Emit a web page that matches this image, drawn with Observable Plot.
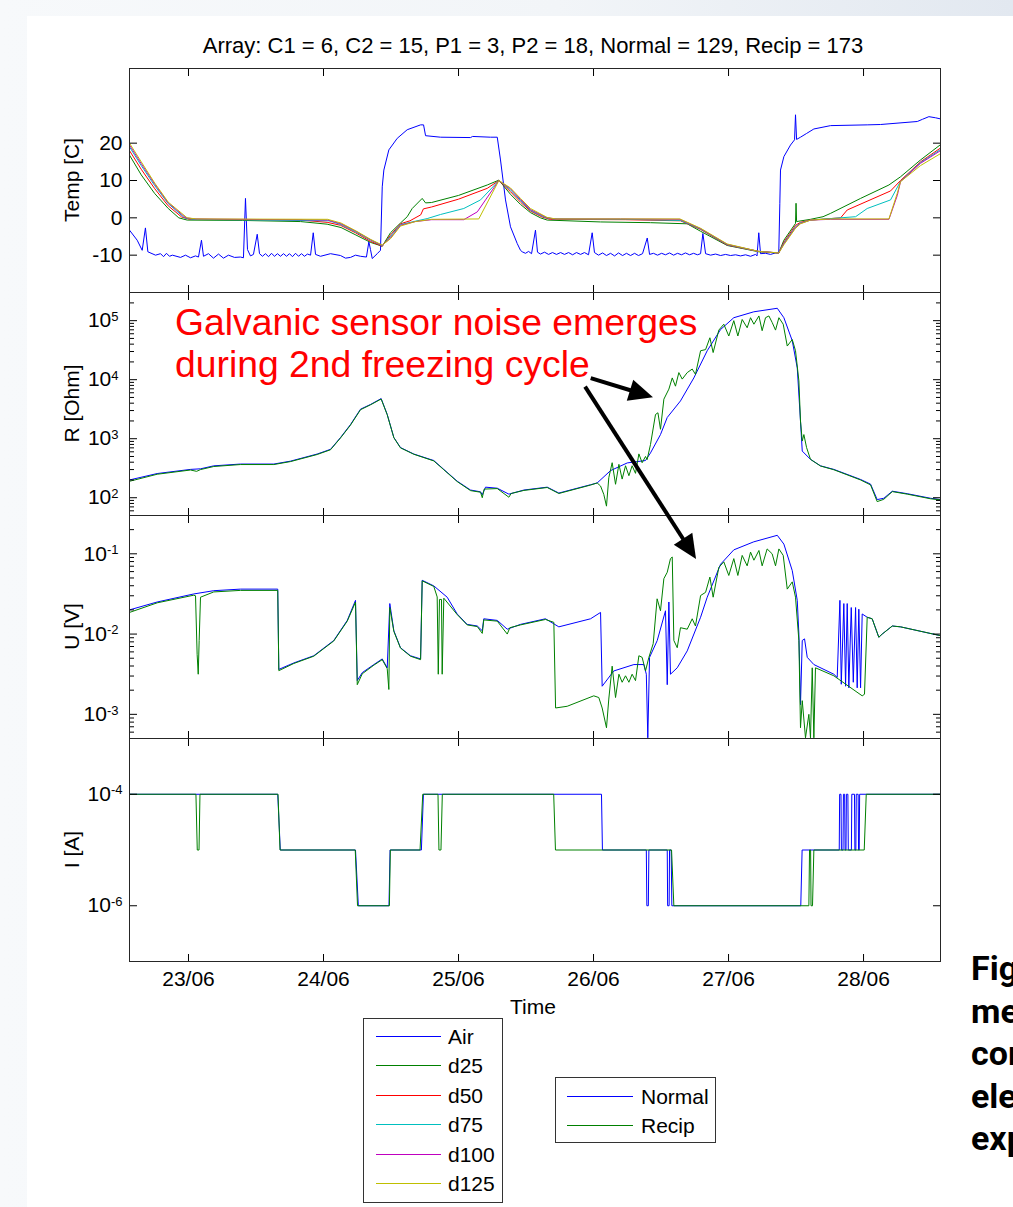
<!DOCTYPE html>
<html><head><meta charset="utf-8">
<script src="https://cdn.jsdelivr.net/npm/d3@7"></script>
<script src="https://cdn.jsdelivr.net/npm/@observablehq/plot@0.6"></script>
<style>
body{margin:0;}
#page{position:relative;width:1013px;height:1207px;overflow:hidden;font-family:"Liberation Sans",Arial,sans-serif;background:linear-gradient(90deg,#f7f9fb 0%,#f2f5f8 55%,#e2e8f0 100%);}
#sheet{position:absolute;left:27px;top:16px;right:0;bottom:0;background:#fff;}
.pl{position:absolute;left:0;}
</style>
</head><body>
<div id="page"><div id="sheet"></div></div>
<script>
// ---------- categories, ticks, labels ----------
const titleText = "Array: C1 = 6, C2 = 15, P1 = 3, P2 = 18, Normal = 129, Recip = 173";
const dayTicks = [23, 24, 25, 26, 27, 28];
const dayLabels = ["23/06", "24/06", "25/06", "26/06", "27/06", "28/06"];
const xDomain = [22.563, 28.570];
const tempSeries = ["Air", "d25", "d50", "d75", "d100", "d125"];
const ertSeries = ["Normal", "Recip"];
const yLabels = ["Temp [C]", "R [Ohm]", "U [V]", "I [A]"];
const xLabel = "Time";
const tempTicks = [-10, 0, 10, 20];
const rTicks = [1e2, 1e3, 1e4, 1e5];
const uTicks = [1e-3, 1e-2, 1e-1];
const iTicks = [1e-6, 1e-4];
const noteLines = ["Galvanic sensor noise emerges", "during 2nd freezing cycle"];
const sideText = ["Fig", "me", "cor", "ele", "exp"];

// ---------- series values: [day of June, value] ----------
const airTemp = [[22.563,-3.3],[22.620,-6.0],[22.657,-8.7],[22.681,-2.7],[22.699,-9.1],[22.756,-10.0],[22.793,-9.6],[22.815,-10.4],[22.837,-9.5],[22.859,-10.3],[22.881,-10.0],[22.941,-10.6],[22.978,-10.0],[23.015,-10.7],[23.052,-10.2],[23.074,-10.5],[23.096,-6.0],[23.111,-10.3],[23.148,-9.6],[23.185,-10.8],[23.222,-9.7],[23.259,-10.8],[23.296,-10.0],[23.341,-10.6],[23.385,-10.5],[23.407,-10.7],[23.422,5.2],[23.437,-8.5],[23.459,-10.2],[23.481,-9.8],[23.509,-4.4],[23.526,-9.6],[23.548,-10.3],[23.570,-9.6],[23.593,-10.4],[23.615,-9.5],[23.637,-10.3],[23.659,-9.6],[23.681,-10.3],[23.704,-9.6],[23.726,-10.3],[23.748,-9.6],[23.770,-10.4],[23.793,-9.5],[23.815,-10.3],[23.837,-9.6],[23.859,-10.3],[23.881,-9.7],[23.904,-10.0],[23.924,-4.0],[23.941,-9.8],[23.978,-10.3],[24.052,-9.6],[24.126,-10.1],[24.163,-10.8],[24.200,-10.6],[24.237,-10.0],[24.274,-10.3],[24.318,-10.5],[24.336,-6.4],[24.348,-8.5],[24.361,-10.9],[24.398,-9.6],[24.422,-8.7],[24.435,8.3],[24.447,12.8],[24.484,18.2],[24.546,21.3],[24.620,23.6],[24.719,24.9],[24.741,24.9],[24.756,22.0],[24.867,21.6],[25.089,21.5],[25.104,21.8],[25.237,21.6],[25.287,21.6],[25.311,15.5],[25.348,4.8],[25.385,-2.4],[25.435,-6.9],[25.459,-8.7],[25.472,-9.1],[25.496,-9.5],[25.519,-9.0],[25.541,-9.6],[25.570,-3.3],[25.585,-9.2],[25.607,-9.7],[25.637,-9.2],[25.667,-9.8],[25.696,-9.3],[25.726,-9.8],[25.756,-9.3],[25.785,-9.8],[25.815,-9.3],[25.845,-9.9],[25.874,-9.3],[25.904,-9.8],[25.933,-9.3],[25.963,-9.9],[25.990,-4.0],[26.007,-9.3],[26.037,-10.0],[26.067,-9.4],[26.096,-10.1],[26.126,-9.5],[26.156,-10.2],[26.185,-9.4],[26.215,-10.1],[26.244,-9.5],[26.274,-10.1],[26.304,-9.5],[26.333,-10.1],[26.363,-9.6],[26.398,-5.4],[26.415,-9.8],[26.444,-9.5],[26.474,-10.0],[26.504,-9.5],[26.533,-9.9],[26.563,-9.4],[26.593,-10.0],[26.622,-9.5],[26.652,-9.9],[26.681,-9.4],[26.711,-9.9],[26.741,-9.5],[26.770,-9.9],[26.793,-9.6],[26.810,-4.2],[26.830,-9.6],[26.867,-10.0],[26.904,-9.7],[26.941,-10.1],[26.978,-9.8],[27.015,-10.1],[27.052,-9.9],[27.089,-10.2],[27.126,-9.9],[27.163,-10.3],[27.200,-9.8],[27.211,-10.2],[27.224,-4.0],[27.237,-9.6],[27.274,-9.5],[27.311,-9.8],[27.348,-9.4],[27.372,-9.4],[27.380,3.9],[27.385,12.8],[27.410,16.4],[27.459,19.5],[27.489,20.9],[27.496,27.6],[27.504,21.0],[27.533,21.6],[27.578,22.6],[27.632,23.8],[27.756,24.7],[28.027,24.9],[28.126,25.0],[28.398,25.8],[28.437,26.4],[28.484,27.1],[28.533,26.8],[28.570,26.5]];
const d25Temp = [[22.563,16.8],[22.650,11.5],[22.750,6.5],[22.850,2.5],[22.928,0.0],[22.990,-0.6],[23.400,-0.7],[23.830,-1.0],[24.027,-1.7],[24.130,-2.6],[24.240,-4.6],[24.350,-6.6],[24.435,-7.6],[24.496,-4.0],[24.570,-1.4],[24.620,0.3],[24.657,2.5],[24.731,5.2],[24.756,4.0],[24.800,4.1],[25.000,6.0],[25.213,8.8],[25.299,10.1],[25.385,6.3],[25.459,3.6],[25.533,1.4],[25.607,0.0],[25.657,-0.6],[26.052,-1.1],[26.422,-1.3],[26.694,-1.6],[26.793,-3.6],[26.990,-7.4],[27.224,-9.1],[27.372,-9.4],[27.410,-6.0],[27.496,-1.5],[27.500,3.9],[27.504,-1.0],[27.607,-0.4],[27.700,0.3],[27.756,1.2],[27.978,5.2],[28.188,8.8],[28.274,11.0],[28.422,15.5],[28.570,19.6]];
const d50Temp = [[22.563,18.0],[22.650,13.0],[22.750,7.8],[22.850,3.2],[22.950,0.2],[23.010,-0.4],[23.830,-0.6],[24.027,-1.2],[24.126,-2.0],[24.237,-4.0],[24.348,-6.3],[24.435,-7.6],[24.496,-4.6],[24.570,-1.6],[24.640,-0.8],[24.720,0.8],[24.740,2.4],[24.800,2.9],[25.000,5.0],[25.213,7.9],[25.299,10.0],[25.385,7.0],[25.459,4.2],[25.533,1.8],[25.620,0.2],[25.680,-0.4],[26.237,-0.5],[26.644,-0.8],[26.793,-3.1],[26.990,-7.3],[27.224,-9.0],[27.372,-9.4],[27.410,-6.5],[27.496,-2.0],[27.533,-1.2],[27.607,-0.6],[27.830,0.0],[27.879,2.1],[28.200,7.2],[28.274,10.0],[28.422,15.0],[28.570,18.7]];
const d75Temp = [[22.563,19.0],[22.650,14.0],[22.750,8.6],[22.850,3.8],[22.970,0.0],[23.030,-0.4],[24.040,-0.8],[24.130,-1.8],[24.240,-3.8],[24.350,-6.0],[24.435,-7.5],[24.496,-5.0],[24.570,-1.8],[24.680,-0.9],[24.768,-0.2],[24.867,0.9],[25.039,2.5],[25.163,4.8],[25.299,10.0],[25.385,7.5],[25.459,4.6],[25.533,2.0],[25.640,0.1],[25.700,-0.3],[26.237,-0.4],[26.644,-0.7],[26.793,-3.0],[26.990,-7.2],[27.224,-9.0],[27.372,-9.4],[27.410,-6.8],[27.496,-2.4],[27.533,-1.4],[27.607,-0.6],[27.941,0.3],[28.027,2.5],[28.200,4.8],[28.274,9.8],[28.422,14.8],[28.570,18.3]];
const d100Temp = [[22.563,19.5],[22.650,14.5],[22.750,9.0],[22.850,4.0],[22.980,0.0],[23.050,-0.3],[24.030,-0.6],[24.130,-1.6],[24.240,-3.6],[24.350,-5.9],[24.435,-7.4],[24.496,-5.4],[24.570,-2.0],[24.680,-1.0],[24.800,-0.5],[25.039,-0.5],[25.139,1.6],[25.200,4.8],[25.299,10.0],[25.385,7.8],[25.459,4.9],[25.533,2.2],[25.650,0.1],[25.710,-0.3],[26.200,-0.3],[26.640,-0.4],[26.793,-2.9],[26.990,-7.1],[27.224,-9.0],[27.372,-9.4],[27.410,-7.0],[27.496,-2.6],[27.533,-1.5],[27.607,-0.6],[27.756,-0.4],[28.188,-0.4],[28.250,6.0],[28.274,9.7],[28.422,14.6],[28.570,18.0]];
const d125Temp = [[22.563,20.0],[22.650,15.0],[22.750,9.3],[22.850,4.2],[22.990,0.0],[23.060,-0.3],[24.030,-0.4],[24.130,-1.4],[24.240,-3.5],[24.350,-5.8],[24.435,-7.3],[24.496,-5.6],[24.570,-2.2],[24.680,-1.0],[24.800,-0.4],[25.150,-0.3],[25.299,10.0],[25.385,8.0],[25.459,5.2],[25.533,2.5],[25.657,0.1],[25.720,-0.3],[26.200,-0.3],[26.640,-0.3],[26.793,-2.8],[26.990,-7.0],[27.224,-9.0],[27.372,-9.4],[27.410,-7.2],[27.496,-2.8],[27.533,-1.6],[27.607,-0.6],[27.756,-0.3],[28.188,-0.3],[28.250,6.6],[28.274,9.7],[28.422,14.0],[28.570,17.2]];

const rNormal = [[22.563,200],[22.768,257],[23.015,302],[23.089,309],[23.187,347],[23.385,372],[23.632,372],[23.756,417],[23.953,550],[24.052,661],[24.126,1047],[24.200,1738],[24.274,3162],[24.348,3800],[24.427,4786],[24.472,2570],[24.521,1047],[24.570,708],[24.669,550],[24.817,427],[24.891,302],[24.990,191],[25.089,135],[25.163,126],[25.176,112],[25.200,151],[25.287,145],[25.373,115],[25.484,135],[25.657,151],[25.743,120],[25.978,166],[26.027,178],[26.126,288],[26.250,389],[26.385,427],[26.422,575],[26.496,1175],[26.546,2291],[26.644,4365],[26.743,10715],[26.842,30903],[26.941,70795],[27.039,112202],[27.187,141254],[27.361,162181],[27.410,112202],[27.472,45709],[27.509,15849],[27.533,1995],[27.546,617],[27.607,447],[27.681,347],[27.780,302],[27.978,204],[28.052,170],[28.101,93],[28.150,98],[28.213,129],[28.324,117],[28.496,98],[28.570,93]];
const rRecip = [[22.563,190],[22.768,250],[23.015,295],[23.060,280],[23.089,300],[23.187,338],[23.385,365],[23.632,365],[23.756,410],[23.953,540],[24.052,650],[24.126,1030],[24.200,1700],[24.274,3100],[24.348,3750],[24.427,4700],[24.472,2550],[24.521,1040],[24.570,700],[24.669,545],[24.817,420],[24.891,298],[24.990,188],[25.089,132],[25.163,124],[25.176,100],[25.190,140],[25.287,143],[25.373,102],[25.390,118],[25.484,133],[25.657,149],[25.743,118],[25.978,164],[26.027,178],[26.052,158],[26.076,114],[26.096,72],[26.113,218],[26.138,392],[26.163,169],[26.188,368],[26.212,207],[26.237,348],[26.262,236],[26.286,348],[26.311,259],[26.336,553],[26.360,392],[26.385,500],[26.397,443],[26.422,800],[26.459,2570],[26.477,2750],[26.496,1445],[26.521,4677],[26.558,6918],[26.583,10715],[26.607,7762],[26.632,13183],[26.657,10233],[26.694,13183],[26.731,15136],[26.755,12303],[26.793,30903],[26.830,32359],[26.862,51286],[26.886,28840],[26.928,69183],[26.965,87096],[27.002,54954],[27.039,100000],[27.069,54954],[27.101,104713],[27.138,75858],[27.163,112202],[27.188,87096],[27.225,120226],[27.249,67608],[27.274,112202],[27.299,120226],[27.323,93325],[27.348,69183],[27.373,112202],[27.405,87096],[27.435,37154],[27.472,47863],[27.496,30903],[27.521,9550],[27.533,1995],[27.546,912],[27.558,1175],[27.578,708],[27.607,447],[27.681,345],[27.780,298],[27.978,200],[28.052,165],[28.101,86],[28.150,94],[28.213,127],[28.324,115],[28.496,96],[28.570,92]];

const uNormal = [[22.563,0.0200],[22.768,0.0251],[23.039,0.0316],[23.187,0.0347],[23.385,0.0363],[23.661,0.0363],[23.669,0.00363],[23.780,0.00437],[23.928,0.00537],[24.076,0.00832],[24.176,0.0148],[24.237,0.0263],[24.250,0.00263],[24.287,0.00331],[24.373,0.00417],[24.435,0.00490],[24.472,0.00380],[24.491,0.0240],[24.521,0.0110],[24.570,0.00676],[24.644,0.00537],[24.719,0.00490],[24.731,0.0468],[24.817,0.0398],[24.916,0.0288],[24.990,0.0178],[25.064,0.0132],[25.139,0.0126],[25.176,0.0110],[25.187,0.0155],[25.287,0.0148],[25.361,0.0115],[25.459,0.0132],[25.644,0.0155],[25.743,0.0123],[25.978,0.0155],[26.052,0.0186],[26.064,0.00224],[26.150,0.00347],[26.299,0.00417],[26.373,0.00417],[26.391,0.00316],[26.402,0.00051],[26.415,0.00513],[26.472,0.00832],[26.533,0.0195],[26.546,0.00234],[26.558,0.0251],[26.570,0.00316],[26.620,0.00380],[26.694,0.00617],[26.793,0.0162],[26.842,0.0288],[26.941,0.0741],[27.039,0.112],[27.187,0.141],[27.361,0.170],[27.410,0.132],[27.472,0.0617],[27.509,0.0263],[27.521,0.0100],[27.533,0.00132],[27.546,0.00832],[27.563,0.00871],[27.583,0.00513],[27.632,0.00417],[27.780,0.00316],[27.805,0.00288],[27.825,0.0263],[27.835,0.00237],[27.854,0.0240],[27.867,0.00224],[27.879,0.0240],[27.891,0.00214],[27.909,0.0214],[27.924,0.00251],[27.941,0.0214],[27.953,0.00214],[27.965,0.0204],[27.978,0.00214],[27.990,0.0178],[28.027,0.0162],[28.064,0.0155],[28.113,0.00912],[28.138,0.0100],[28.213,0.0126],[28.274,0.0123],[28.570,0.00955]];
const uRecip = [[22.563,0.0186],[22.768,0.0245],[23.039,0.0305],[23.052,0.0300],[23.064,0.0056],[23.072,0.00316],[23.079,0.0083],[23.089,0.0288],[23.187,0.0335],[23.385,0.0350],[23.661,0.0350],[23.669,0.00350],[23.780,0.00430],[23.928,0.00530],[24.076,0.00820],[24.176,0.0145],[24.237,0.0250],[24.250,0.00234],[24.287,0.00320],[24.373,0.00410],[24.435,0.00480],[24.472,0.00370],[24.484,0.00204],[24.491,0.0214],[24.521,0.0108],[24.570,0.00670],[24.644,0.00530],[24.719,0.00480],[24.731,0.0460],[24.817,0.0392],[24.842,0.0290],[24.850,0.00316],[24.859,0.0270],[24.874,0.0270],[24.879,0.00316],[24.891,0.0280],[24.990,0.0175],[25.064,0.0130],[25.139,0.0124],[25.176,0.0102],[25.187,0.0150],[25.287,0.0145],[25.361,0.0100],[25.380,0.0120],[25.459,0.0130],[25.644,0.0152],[25.706,0.0140],[25.719,0.00120],[25.805,0.00126],[26.002,0.00170],[26.039,0.00162],[26.064,0.00120],[26.096,0.00068],[26.113,0.00155],[26.138,0.00398],[26.163,0.00162],[26.188,0.00316],[26.212,0.00251],[26.237,0.00302],[26.262,0.00251],[26.286,0.00316],[26.311,0.00263],[26.336,0.00537],[26.360,0.00513],[26.385,0.00347],[26.410,0.00513],[26.442,0.00759],[26.471,0.0275],[26.496,0.0195],[26.521,0.0490],[26.546,0.0589],[26.570,0.0871],[26.583,0.0912],[26.595,0.00832],[26.620,0.00676],[26.644,0.0120],[26.694,0.0115],[26.731,0.0155],[26.755,0.0126],[26.793,0.0302],[26.830,0.0331],[26.862,0.0513],[26.886,0.0288],[26.928,0.0676],[26.965,0.0794],[27.002,0.0537],[27.039,0.0871],[27.069,0.0537],[27.101,0.0955],[27.138,0.0708],[27.163,0.105],[27.188,0.0832],[27.225,0.110],[27.249,0.0708],[27.286,0.115],[27.323,0.100],[27.348,0.0708],[27.373,0.115],[27.405,0.0955],[27.435,0.0363],[27.472,0.0447],[27.496,0.0288],[27.521,0.00832],[27.533,0.00068],[27.546,0.00148],[27.570,0.00051],[27.595,0.00100],[27.607,0.00051],[27.620,0.00380],[27.632,0.00051],[27.644,0.00380],[27.780,0.00302],[27.990,0.00170],[28.007,0.00178],[28.027,0.0162],[28.064,0.0155],[28.113,0.00912],[28.138,0.0100],[28.213,0.0126],[28.274,0.0123],[28.570,0.00955]];

const iNormal = [[22.563,1e-4],[23.661,1e-4],[23.680,1e-5],[24.237,1e-5],[24.258,1e-6],[24.485,1e-6],[24.493,1e-5],[24.725,1e-5],[24.740,1e-4],[26.059,1e-4],[26.066,1e-5],[26.391,1e-5],[26.395,1e-6],[26.406,1e-6],[26.410,1e-5],[26.546,1e-5],[26.549,1e-6],[26.560,1e-6],[26.563,1e-5],[26.575,1e-5],[26.580,1e-6],[27.535,1e-6],[27.545,1e-5],[27.820,1e-5],[27.823,1e-4],[27.833,1e-4],[27.836,1e-5],[27.848,1e-5],[27.851,1e-4],[27.860,1e-4],[27.863,1e-5],[27.870,1e-5],[27.873,1e-4],[27.884,1e-4],[27.887,1e-5],[27.910,1e-5],[27.913,1e-4],[27.933,1e-4],[27.936,1e-5],[27.943,1e-5],[27.946,1e-4],[27.960,1e-4],[27.963,1e-5],[27.968,1e-5],[27.971,1e-4],[28.570,1e-4]];
const iRecip = [[22.563,1e-4],[23.055,1e-4],[23.065,1e-5],[23.078,1e-5],[23.085,1e-4],[23.663,1e-4],[23.678,1e-5],[24.235,1e-5],[24.252,1e-6],[24.488,1e-6],[24.495,1e-5],[24.715,1e-5],[24.735,1e-4],[24.848,1e-4],[24.855,1e-5],[24.870,1e-5],[24.880,1e-4],[25.705,1e-4],[25.718,1e-5],[26.578,1e-5],[26.595,1e-6],[27.595,1e-6],[27.600,1e-5],[27.608,1e-5],[27.611,1e-6],[27.622,1e-6],[27.632,1e-5],[28.005,1e-5],[28.020,1e-4],[28.570,1e-4]];

// annotation anchors in data units (day, value)
const noteAnchor = {t: 22.904, r: 55000};
const arrowA = {from: {t: 25.983, r: 10400}, to: {t: 26.444, r: 4950}};
const arrowB = {from: {t: 25.941, r: 7500}, to: {t: 26.763, u: 0.085}};

// ---------- styles ----------
const tempColors = ["#0000ff", "#008000", "#ff0000", "#00bfbf", "#bf00bf", "#bfbf00"];
const ertColors = ["#0000ff", "#008000"];
const FONT = "'Liberation Sans', Arial, Helvetica, sans-serif";
const AXIS = "#262626";

function rows(names, arrays) {
  return names.flatMap((s, i) => arrays[i].map(([t, v]) => ({t, v, s})));
}
function minorLog(lo, hi) { // minor tick positions between decades
  const out = [];
  for (let e = Math.floor(Math.log10(lo)) ; e <= Math.ceil(Math.log10(hi)); e++)
    for (let k = 2; k <= 9; k++) { const v = k * Math.pow(10, e); if (v > lo * 1.001 && v < hi * 0.999) out.push(v); }
  return out;
}

const page = document.getElementById("page");

function panel(cfg) {
  const mt = 10, mb = cfg.mb ?? 10;
  const marks = [
    Plot.line(cfg.data, {x: "t", y: "v", z: "s", stroke: "s", strokeWidth: 1, clip: true}),
    Plot.axisY({anchor: "left", ticks: cfg.majors, tickSize: -8, tickPadding: cfg.pad, tickFormat: cfg.fmt, label: null}),
    Plot.axisY({anchor: "right", ticks: cfg.majors, tickSize: -8, tickFormat: () => "", label: null})
  ];
  if (cfg.minors && cfg.minors.length) {
    marks.push(Plot.axisY({anchor: "left", ticks: cfg.minors, tickSize: -5, tickFormat: () => "", label: null}));
    marks.push(Plot.axisY({anchor: "right", ticks: cfg.minors, tickSize: -5, tickFormat: () => "", label: null}));
  }
  marks.push(Plot.axisX({anchor: "top", ticks: dayTicks, tickSize: -7, tickFormat: () => "", label: null}));
  marks.push(Plot.axisX({anchor: "bottom", ticks: dayTicks, tickSize: -7, tickPadding: 17,
    tickFormat: cfg.showX ? (d) => dayLabels[dayTicks.indexOf(d)] : () => "", label: null}));
  marks.push(Plot.frame({stroke: AXIS}));
  const p = Plot.plot({
    width: 1013, height: cfg.h + mt + mb,
    marginLeft: 129, marginRight: 73, marginTop: mt, marginBottom: mb,
    x: {domain: xDomain},
    y: cfg.y,
    color: {domain: cfg.names, range: cfg.colors},
    style: {fontFamily: FONT, fontSize: "21px", color: "#000", background: "none", overflow: "visible"},
    marks
  });
  p.classList.add("pl");
  p.style.top = (cfg.top - mt) + "px";
  // superscript exponents for log labels
  p.querySelectorAll('g[aria-label="y-axis tick label"] text').forEach(t => {
    const m = (t.textContent || "").match(/^10\^(-?\d+)$/);
    if (!m) return;
    t.textContent = "10";
    const ts = document.createElementNS("http://www.w3.org/2000/svg", "tspan");
    ts.setAttribute("dy", "-0.5em");
    ts.setAttribute("font-size", "0.62em");
    ts.textContent = m[1];
    t.appendChild(ts);
  });
  page.appendChild(p);
  return {p, top: cfg.top - mt};
}
const logFmt = d => "10^" + Math.round(Math.log10(d));

const P1 = panel({top: 68, h: 224, names: tempSeries, colors: tempColors,
  data: rows(tempSeries, [airTemp, d25Temp, d50Temp, d75Temp, d100Temp, d125Temp]),
  y: {domain: [-20, 40]}, majors: tempTicks, pad: 15, fmt: d => String(d)});
const P2 = panel({top: 292, h: 223, names: ertSeries, colors: ertColors,
  data: rows(ertSeries, [rNormal, rRecip]),
  y: {type: "log", domain: [50, 3e5]}, majors: rTicks, minors: minorLog(50, 3e5), pad: 19, fmt: logFmt});
const P3 = panel({top: 515, h: 223, names: ertSeries, colors: ertColors,
  data: rows(ertSeries, [uNormal, uRecip]),
  y: {type: "log", domain: [5e-4, 0.3]}, majors: uTicks, minors: minorLog(5e-4, 0.3), pad: 19, fmt: logFmt});
const P4 = panel({top: 738, h: 223, mb: 70, names: ertSeries, colors: ertColors, showX: true,
  data: rows(ertSeries, [iNormal, iRecip]),
  y: {type: "log", domain: [1e-7, 1e-3]}, majors: iTicks, minors: [], pad: 15, fmt: logFmt});

// ---------- overlay: title, labels, annotation, legends ----------
const ov = d3.select(page).append("svg")
  .attr("width", 1013).attr("height", 1207)
  .style("position", "absolute").style("left", 0).style("top", 0)
  .attr("font-family", FONT);

const xs = P1.p.scale("x");
const px = t => xs.apply(t);
const pyR = v => P2.top + P2.p.scale("y").apply(v);
const pyU = v => P3.top + P3.p.scale("y").apply(v);

ov.append("text").attr("x", 533).attr("y", 45).attr("text-anchor", "middle")
  .attr("dominant-baseline", "central").attr("font-size", 22).attr("fill", "#000").text(titleText);

const panelsY = [[68, 292], [292, 515], [515, 738], [738, 961]];
yLabels.forEach((lab, i) => {
  const cy = (panelsY[i][0] + panelsY[i][1]) / 2;
  ov.append("text").attr("transform", `translate(71,${cy}) rotate(-90)`)
    .attr("text-anchor", "middle").attr("dominant-baseline", "central")
    .attr("font-size", 21).attr("fill", "#000").text(lab);
});
ov.append("text").attr("x", 533).attr("y", 1006).attr("text-anchor", "middle")
  .attr("dominant-baseline", "central").attr("font-size", 21).attr("fill", "#000").text(xLabel);

// annotation text
const nx = px(noteAnchor.t), ny = pyR(noteAnchor.r);
noteLines.forEach((s, i) => {
  ov.append("text").attr("x", nx).attr("y", ny + i * 42).attr("font-size", 37.3)
    .attr("fill", "#ff0000").text(s);
});
function arrow(x1, y1, x2, y2) {
  const dx = x2 - x1, dy = y2 - y1, L = Math.hypot(dx, dy), ux = dx / L, uy = dy / L;
  const hl = 24, hw = 11;
  const bx = x2 - ux * hl, by = y2 - uy * hl;
  ov.append("line").attr("x1", x1).attr("y1", y1).attr("x2", bx + ux * 2).attr("y2", by + uy * 2)
    .attr("stroke", "#000").attr("stroke-width", 4);
  ov.append("polygon").attr("points", `${x2},${y2} ${bx - uy * hw},${by + ux * hw} ${bx + uy * hw},${by - ux * hw}`)
    .attr("fill", "#000");
}
arrow(px(arrowA.from.t), pyR(arrowA.from.r), px(arrowA.to.t), pyR(arrowA.to.r));
arrow(px(arrowB.from.t), pyR(arrowB.from.r), px(arrowB.to.t), pyU(arrowB.to.u));

// legends
function legend(names, colors, x, y, w, h, y0, step, lx1, lx2, tx) {
  ov.append("rect").attr("x", x + 0.5).attr("y", y + 0.5).attr("width", w).attr("height", h)
    .attr("fill", "#fff").attr("stroke", "#333");
  names.forEach((n, i) => {
    const yy = Math.round(y0 + i * step);
    ov.append("line").attr("x1", lx1).attr("x2", lx2).attr("y1", yy + 0.5).attr("y2", yy + 0.5)
      .attr("stroke", colors[i]).attr("stroke-width", 1);
    ov.append("text").attr("x", tx).attr("y", yy).attr("dominant-baseline", "central")
      .attr("font-size", 21).attr("fill", "#000").text(n);
  });
}
legend(tempSeries, tempColors, 363, 1018, 139, 184, 1036, 29.4, 376, 441, 448);
legend(ertSeries, ertColors, 555, 1077, 160, 65, 1096, 28.5, 567, 633, 641);

// side caption fragment (cut off at page edge, as in the source slide)
sideText.forEach((s, i) => {
  ov.append("text").attr("x", 971).attr("y", 980 + i * 42.5)
    .attr("font-family", "'Liberation Sans Narrow', 'Arial Narrow', 'Roboto', sans-serif")
    .attr("font-weight", "bold").attr("font-size", 34).attr("fill", "#000").text(s);
});
</script>
</body></html>
